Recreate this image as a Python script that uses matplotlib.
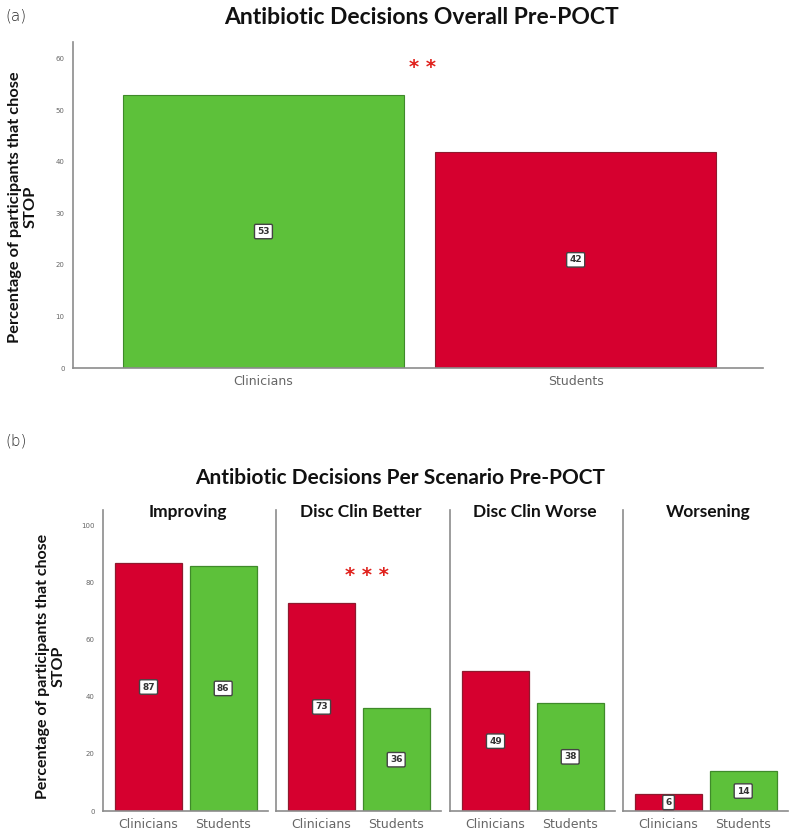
import matplotlib
matplotlib.use("Agg")
import matplotlib.pyplot as plt
import numpy as np

# ---------------- data ----------------
overall_groups = ["Clinicians", "Students"]
overall_values = [53, 42]
scenarios = ["Improving", "Disc Clin Better", "Disc Clin Worse", "Worsening"]
scenario_groups = ["Clinicians", "Students"]
clinicians_values = [87, 73, 49, 6]
students_values = [86, 36, 38, 14]
top_yticks = [0, 10, 20, 30, 40, 50, 60]
bottom_yticks = [0, 20, 40, 60, 80, 100]

RED = "#D6002F"
GREEN = "#5DC13A"
RED_EDGE = "#8E1A2E"
GREEN_EDGE = "#3F8A2A"
AXIS_GRAY = "#8C8C8C"
TICK_GRAY = "#666666"
STAR_RED = "#E0201B"
TITLE_FONT = "Lato"
TICK_FONT = "DejaVu Sans"

W, H = 797, 836
fig = plt.figure(figsize=(W / 100, H / 100), dpi=100)


def ax_rect(x0, y0, x1, y1):
    return [x0 / W, 1 - y1 / H, (x1 - x0) / W, (y1 - y0) / H]


def style_axes(ax, show_yticks):
    for s in ["top", "right"]:
        ax.spines[s].set_visible(False)
    for s in ["left", "bottom"]:
        ax.spines[s].set_color(AXIS_GRAY)
        ax.spines[s].set_linewidth(1.2)
    ax.tick_params(axis="both", length=0)
    ax.tick_params(axis="x", labelsize=9, labelcolor=TICK_GRAY, pad=5)
    ax.tick_params(axis="y", labelsize=5, labelcolor=TICK_GRAY, pad=6)
    for lab in ax.get_xticklabels():
        lab.set_family(TICK_FONT)
    if not show_yticks:
        ax.set_yticklabels([])


def value_label(ax, x, v):
    ax.text(x, v / 2, f"{v}", ha="center", va="center", fontsize=6.5,
            fontweight="bold", color="#333333", family="DejaVu Sans",
            bbox=dict(boxstyle="round,pad=0.3,rounding_size=0.15", fc="white",
                      ec="#444444", lw=1.0))


# ---------------- panel (a) ----------------
ax = fig.add_axes(ax_rect(73, 42, 763, 368))
xa = np.arange(len(overall_groups))
colors_a = [GREEN, RED]
edges_a = [GREEN_EDGE, RED_EDGE]
ax.bar(xa, overall_values, width=0.9, color=colors_a, edgecolor=edges_a, linewidth=0.8)
for x, v in zip(xa, overall_values):
    value_label(ax, x, v)
ax.set_xlim(-0.61, 1.6)
ax.set_ylim(0, 63.3)
ax.set_yticks(top_yticks)
ax.set_xticks(xa)
ax.set_xticklabels(overall_groups)
style_axes(ax, True)
ax.text(0.51, 58.4, "* *", color=STAR_RED, fontsize=14, fontweight="bold",
        ha="center", va="center", family="DejaVu Sans")

fig.text(421 / W, 1 - 17 / H, "Antibiotic Decisions Overall Pre-POCT", ha="center",
         va="center", fontsize=16.5, fontweight="bold", family=TITLE_FONT, color="#111111")
fig.text(5 / W, 1 - 16 / H, "(a)", ha="left", va="center", fontsize=11,
         family="DejaVu Sans", color="#222222", fontweight="light")
fig.text(23 / W, 1 - 207 / H, "Percentage of participants that chose\nSTOP",
         rotation=90, ha="center", va="center", multialignment="center",
         fontsize=11.8, fontweight="bold", family=TITLE_FONT, color="#111111",
         linespacing=1.1)

# ---------------- panel (b) ----------------
fig.text(400 / W, 1 - 478 / H, "Antibiotic Decisions Per Scenario Pre-POCT", ha="center",
         va="center", fontsize=15, fontweight="bold", family=TITLE_FONT, color="#111111")
fig.text(5 / W, 1 - 441 / H, "(b)", ha="left", va="center", fontsize=11,
         family="DejaVu Sans", color="#222222", fontweight="light")
fig.text(51 / W, 1 - 666 / H, "Percentage of participants that chose\nSTOP",
         rotation=90, ha="center", va="center", multialignment="center",
         fontsize=11.5, fontweight="bold", family=TITLE_FONT, color="#111111",
         linespacing=1.1)

panel_lefts = [103, 276, 450, 623]
panel_width = 165
xb = np.arange(len(scenario_groups))
for i, scen in enumerate(scenarios):
    l = panel_lefts[i]
    axb = fig.add_axes(ax_rect(l, 510, l + panel_width, 811))
    vals = [clinicians_values[i], students_values[i]]
    axb.bar(xb, vals, width=0.9, color=[RED, GREEN], edgecolor=[RED_EDGE, GREEN_EDGE],
            linewidth=0.9)
    for x, v in zip(xb, vals):
        value_label(axb, x, v)
    axb.set_xlim(-0.61, 1.6)
    axb.set_ylim(0, 105.6)
    axb.set_yticks(bottom_yticks)
    axb.set_xticks(xb)
    axb.set_xticklabels(scenario_groups)
    style_axes(axb, i == 0)
    axb.text(0.515, 0.993, scen, transform=axb.transAxes, ha="center", va="center",
             fontsize=12.5, fontweight="bold", family=TITLE_FONT, color="#111111")
    if scen == "Disc Clin Better":
        axb.text(0.61, 82.5, "* * *", color=STAR_RED, fontsize=14, fontweight="bold",
                 ha="center", va="center", family="DejaVu Sans")

fig.savefig("out.png", dpi=100)
